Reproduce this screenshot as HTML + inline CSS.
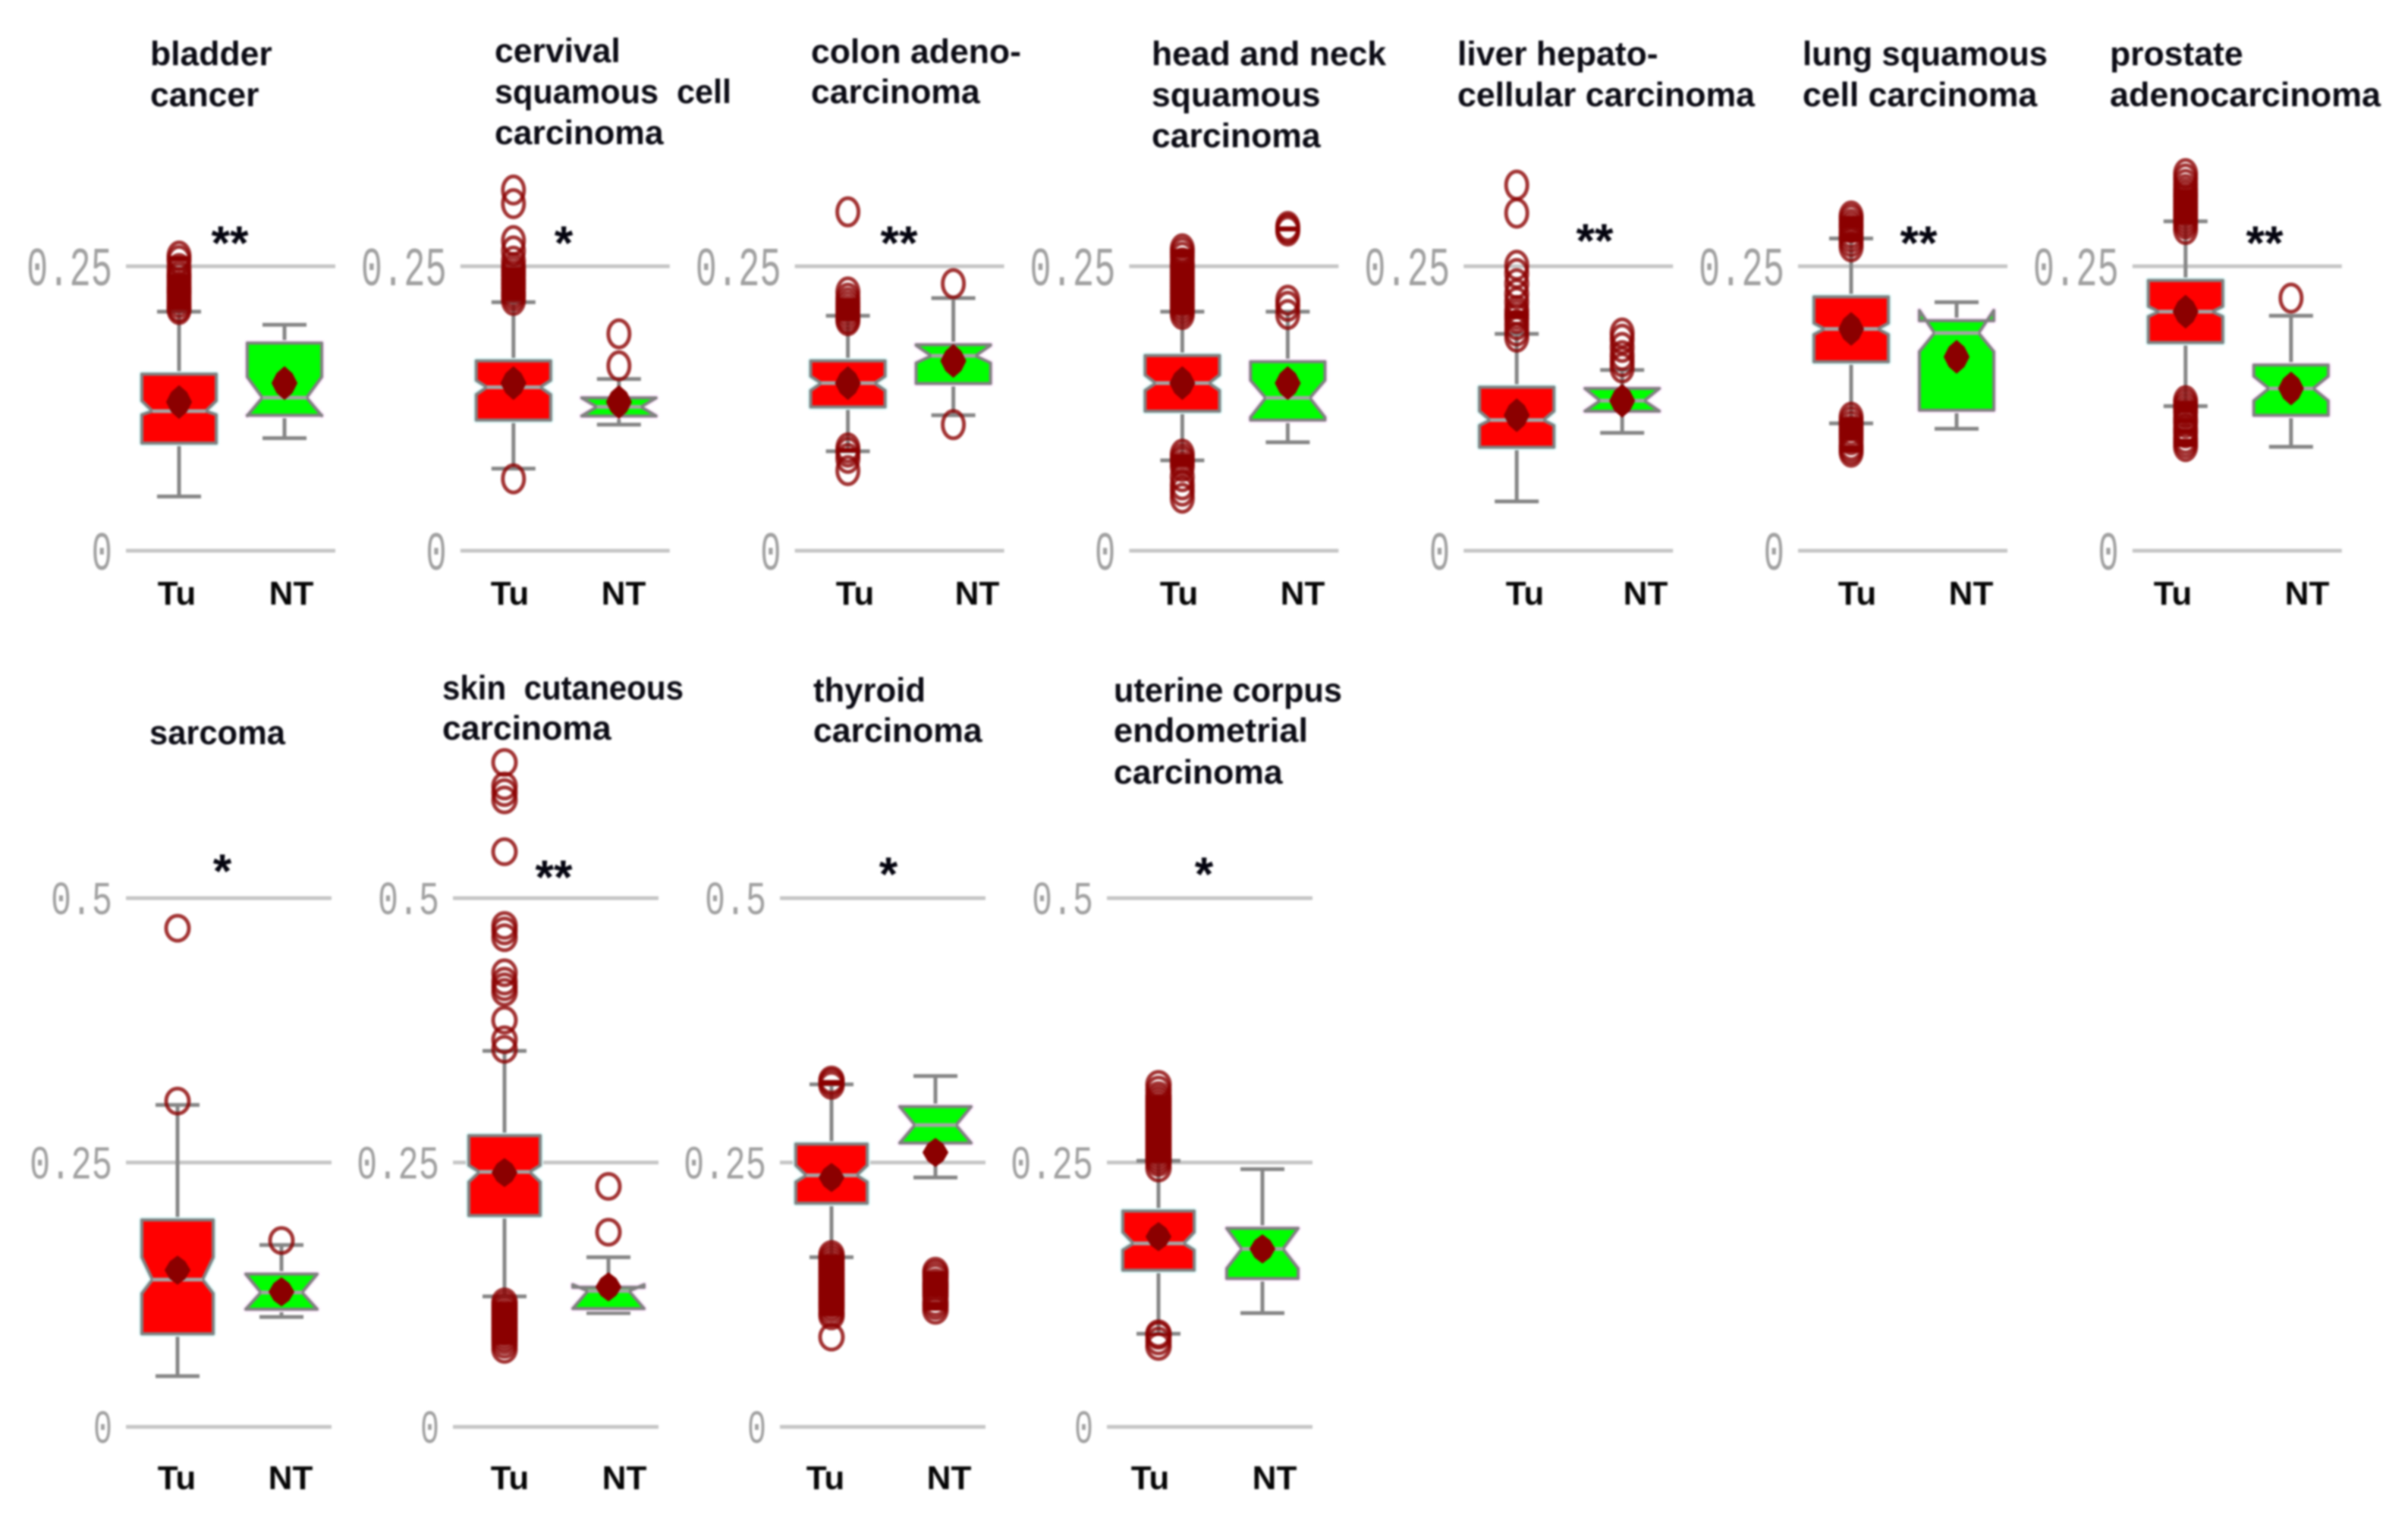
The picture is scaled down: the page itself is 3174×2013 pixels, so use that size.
<!DOCTYPE html>
<html>
<head>
<meta charset="utf-8">
<title>Notched box plots of tumour versus non-tumour samples</title>
<style>
html,body{margin:0;padding:0;background:#fff;width:3174px;height:2013px;overflow:hidden}
svg{display:block}
.title{font-family:"Liberation Sans",sans-serif;font-weight:700;font-size:44.5px;fill:#0b0b14;white-space:pre}
.cat{font-family:"Liberation Sans",sans-serif;font-weight:700;font-size:44px;fill:#050505;text-anchor:middle}
.star{font-family:"Liberation Sans",sans-serif;font-weight:700;font-size:63px;fill:#050510;text-anchor:middle}
.tick{font-family:"Liberation Mono",monospace;fill:#a0a0a0;text-anchor:end}
#blur-layer{filter:blur(1.2px)}
</style>
</head>
<body>
<svg id="chart" xmlns="http://www.w3.org/2000/svg" width="3174" height="2013" viewBox="0 0 3174 2013">
<rect width="3174" height="2013" fill="#fff"/>
<g id="blur-layer">
<g id="marks"></g>

<g>
<text class="title" x="198" y="86">bladder</text>
<text class="title" x="198" y="140">cancer</text>
<text class="title" x="652" y="82">cervival</text>
<text class="title" x="652" y="136" textLength="312" lengthAdjust="spacingAndGlyphs">squamous  cell</text>
<text class="title" x="652" y="190">carcinoma</text>
<text class="title" x="1069" y="83">colon adeno-</text>
<text class="title" x="1069" y="136">carcinoma</text>
<text class="title" x="1518" y="86">head and neck</text>
<text class="title" x="1518" y="140">squamous</text>
<text class="title" x="1518" y="194">carcinoma</text>
<text class="title" x="1921" y="86">liver hepato-</text>
<text class="title" x="1921" y="140" textLength="392" lengthAdjust="spacingAndGlyphs">cellular carcinoma</text>
<text class="title" x="2376" y="86" textLength="323" lengthAdjust="spacingAndGlyphs">lung squamous</text>
<text class="title" x="2376" y="140">cell carcinoma</text>
<text class="title" x="2781" y="86">prostate</text>
<text class="title" x="2781" y="140" textLength="357" lengthAdjust="spacingAndGlyphs">adenocarcinoma</text>
<text class="title" x="197" y="981" textLength="179" lengthAdjust="spacingAndGlyphs">sarcoma</text>
<text class="title" x="583" y="922" textLength="318" lengthAdjust="spacingAndGlyphs">skin  cutaneous</text>
<text class="title" x="583" y="975">carcinoma</text>
<text class="title" x="1072" y="925" textLength="148" lengthAdjust="spacingAndGlyphs">thyroid</text>
<text class="title" x="1072" y="978">carcinoma</text>
<text class="title" x="1468" y="925" textLength="301" lengthAdjust="spacingAndGlyphs">uterine corpus</text>
<text class="title" x="1468" y="978" textLength="256" lengthAdjust="spacingAndGlyphs">endometrial</text>
<text class="title" x="1468" y="1033">carcinoma</text>
</g>

<g>
<text class="star" x="303" y="342">**</text>
<text class="star" x="743" y="342">*</text>
<text class="star" x="1185" y="342">**</text>
<text class="star" x="2102" y="339">**</text>
<text class="star" x="2529" y="342">**</text>
<text class="star" x="2985" y="342">**</text>
<text class="star" x="293" y="1170">*</text>
<text class="star" x="730" y="1178">**</text>
<text class="star" x="1171" y="1174">*</text>
<text class="star" x="1587" y="1174">*</text>
</g>

<g>
<text class="cat" x="233" y="797">Tu</text>
<text class="cat" x="384" y="797">NT</text>
<text class="cat" x="672" y="797">Tu</text>
<text class="cat" x="822" y="797">NT</text>
<text class="cat" x="1127" y="797">Tu</text>
<text class="cat" x="1288" y="797">NT</text>
<text class="cat" x="1554" y="797">Tu</text>
<text class="cat" x="1717" y="797">NT</text>
<text class="cat" x="2010" y="797">Tu</text>
<text class="cat" x="2169" y="797">NT</text>
<text class="cat" x="2448" y="797">Tu</text>
<text class="cat" x="2598" y="797">NT</text>
<text class="cat" x="2864" y="797">Tu</text>
<text class="cat" x="3041" y="797">NT</text>
<text class="cat" x="233" y="1963">Tu</text>
<text class="cat" x="383" y="1963">NT</text>
<text class="cat" x="672" y="1963">Tu</text>
<text class="cat" x="823" y="1963">NT</text>
<text class="cat" x="1088" y="1963">Tu</text>
<text class="cat" x="1251" y="1963">NT</text>
<text class="cat" x="1516" y="1963">Tu</text>
<text class="cat" x="1680" y="1963">NT</text>
</g>
</g>
</svg>

<script>
// Panel order: bladder, cervical, colon, head-neck, liver, lung, prostate, sarcoma, skin, thyroid, uterine
const topTickValues = [0, 0.25];
const topTickLabels = ["0", "0.25"];
const bottomTickValues = [0, 0.25, 0.5];
const bottomTickLabels = ["0", "0.25", "0.5"];

const tuWhiskerLow  = [0.0477, 0.0722, 0.0874, 0.0794, 0.0433, 0.1119, 0.1271, 0.0480, 0.1234, 0.1604, 0.0881];
const tuQ1          = [0.0946, 0.1148, 0.1264, 0.1227, 0.0910, 0.1661, 0.1830, 0.0881, 0.1999, 0.2115, 0.1482];
const tuNotchLow    = [0.1195, 0.1372, 0.1408, 0.1408, 0.1101, 0.1900, 0.2058, 0.1261, 0.2316, 0.2316, 0.1672];
const tuMedian      = [0.1227, 0.1437, 0.1473, 0.1473, 0.1148, 0.1949, 0.2101, 0.1393, 0.2411, 0.2379, 0.1735];
const tuNotchHigh   = [0.1318, 0.1498, 0.1534, 0.1545, 0.1227, 0.2000, 0.2148, 0.1604, 0.2474, 0.2474, 0.1841];
const tuQ3          = [0.1552, 0.1668, 0.1668, 0.1715, 0.1437, 0.2231, 0.2375, 0.1957, 0.2754, 0.2674, 0.2041];
const tuWhiskerHigh = [0.2101, 0.2184, 0.2065, 0.2101, 0.1906, 0.2744, 0.2895, 0.3044, 0.3555, 0.3239, 0.2516];
const tuMean        = [0.1307, 0.1473, 0.1473, 0.1473, 0.1191, 0.1949, 0.2101, 0.1482, 0.2405, 0.2358, 0.1799];

const ntWhiskerLow  = [0.0989, 0.1108, 0.1191, 0.0953, 0.1036, 0.1072, 0.0913, 0.1039, 0.1076, 0.2358, 0.1076];
const ntQ1          = [0.1191, 0.1184, 0.1470, 0.1148, 0.1227, 0.1235, 0.1191, 0.1113, 0.1119, 0.2685, 0.1403];
const ntNotchLow    = [0.1187, 0.1184, 0.1650, 0.1173, 0.1227, 0.1750, 0.1318, 0.1113, 0.1119, 0.2685, 0.1498];
const ntMedian      = [0.1345, 0.1264, 0.1713, 0.1343, 0.1318, 0.1913, 0.1426, 0.1271, 0.1285, 0.2854, 0.1683];
const ntNotchHigh   = [0.1527, 0.1343, 0.1805, 0.1498, 0.1426, 0.2112, 0.1534, 0.1445, 0.1345, 0.3028, 0.1878];
const ntQ3          = [0.1825, 0.1343, 0.1810, 0.1661, 0.1426, 0.2022, 0.1632, 0.1445, 0.1320, 0.3028, 0.1878];
const ntWhiskerHigh = [0.1986, 0.1509, 0.2220, 0.2101, 0.1588, 0.2184, 0.2065, 0.1720, 0.1604, 0.3318, 0.2437];
const ntMean        = [0.1473, 0.1307, 0.1668, 0.1473, 0.1318, 0.1704, 0.1426, 0.1277, 0.1324, 0.2595, 0.1683];

const tuOutliersBladder = [0.259,0.255,0.248,0.243,0.240,0.236,0.232,0.229,0.226,0.222,0.218,0.214,0.212];
const tuOutliersCervical = [0.317,0.305,0.2726,0.2635,0.2545,0.249,0.2455,0.242,0.238,0.2347,0.231,0.227,0.2238,0.220,0.0632];
const tuOutliersColon = [0.2978,0.2274,0.222,0.218,0.2145,0.211,0.2075,0.204,0.2022,0.0903,0.0866,0.0812,0.0704];
const tuOutliersHeadNeck = [0.2653,0.262,0.258,0.253,0.250,0.247,0.244,0.241,0.238,0.235,0.232,0.229,0.226,0.223,0.220,0.217,0.214,0.211,0.2076,0.0848,0.081,0.078,0.074,0.065,0.0578,0.0523,0.0462];
const tuOutliersLiver = [0.3213,0.2967,0.2509,0.2437,0.2347,0.2256,0.2184,0.2112,0.2076,0.204,0.1985,0.193,0.1877];
const tuOutliersLung = [0.2942,0.291,0.287,0.2838,0.2792,0.2755,0.2715,0.2671,0.1173,0.1135,0.1095,0.1055,0.1015,0.0975,0.0925,0.0895,0.0866];
const tuOutliersProstate = [0.3314,0.3268,0.322,0.3175,0.314,0.311,0.308,0.305,0.302,0.299,0.296,0.293,0.290,0.287,0.2823,0.1318,0.1285,0.125,0.1215,0.116,0.1125,0.107,0.1035,0.0985,0.095,0.0915];
const tuOutliersSarcoma = [0.4716,0.3081];
const tuOutliersSkin = [0.6283,0.6061,0.5998,0.5929,0.5439,0.4742,0.469,0.4626,0.4294,0.4215,0.4162,0.411,0.3846,0.3661,0.3571,0.1182,0.115,0.112,0.109,0.106,0.103,0.100,0.097,0.094,0.091,0.088,0.085,0.082,0.078,0.0733];
const tuOutliersThyroid = [0.328,0.326,0.323,0.163,0.160,0.157,0.154,0.151,0.148,0.145,0.142,0.139,0.136,0.133,0.130,0.127,0.124,0.121,0.118,0.115,0.112,0.108,0.105,0.0849];
const tuOutliersUterine = [0.3239,0.3186,0.3133,0.310,0.307,0.304,0.301,0.298,0.295,0.292,0.289,0.286,0.283,0.280,0.277,0.274,0.271,0.268,0.265,0.262,0.259,0.256,0.253,0.250,0.2448,0.0881,0.0865,0.0812,0.076];

const ntOutliersBladder = [];
const ntOutliersCervical = [0.1906,0.1625];
const ntOutliersColon = [0.2347,0.1108];
const ntOutliersHeadNeck = [0.285,0.283,0.281,0.2202,0.2148,0.2076];
const ntOutliersLiver = [0.1913,0.1859,0.1787,0.1715,0.166,0.1606];
const ntOutliersLung = [];
const ntOutliersProstate = [0.222];
const ntOutliersSarcoma = [0.1762];
const ntOutliersSkin = [0.2274,0.1841];
const ntOutliersThyroid = [0.1472,0.1445,0.141,0.1365,0.1335,0.1305,0.127,0.1235,0.118,0.1145,0.1102];
const ntOutliersUterine = [];

const tuOutliers = [tuOutliersBladder,tuOutliersCervical,tuOutliersColon,tuOutliersHeadNeck,tuOutliersLiver,tuOutliersLung,tuOutliersProstate,tuOutliersSarcoma,tuOutliersSkin,tuOutliersThyroid,tuOutliersUterine];
const ntOutliers = [ntOutliersBladder,ntOutliersCervical,ntOutliersColon,ntOutliersHeadNeck,ntOutliersLiver,ntOutliersLung,ntOutliersProstate,ntOutliersSarcoma,ntOutliersSkin,ntOutliersThyroid,ntOutliersUterine];

const NS = 'http://www.w3.org/2000/svg';
const root = document.getElementById('marks');

function yTop(v){ return 726 - 1500 * v; }
function yBottom(v){ return 1881 - 1394 * v; }
function panelLeft(i){ return i < 7 ? 166 + i * 440.8 : 166 + (i - 7) * 431; }

function make(tag, attrs, parent){
  const el = document.createElementNS(NS, tag);
  for (const k in attrs) el.setAttribute(k, attrs[k]);
  parent.appendChild(el);
  return el;
}

function drawAxis(g, left, y, values, labels, isTop){
  values.forEach(function(v, j){
    const line = make('line', {x1:left, x2:left + (isTop ? 276 : 271), y1:y(v), y2:y(v), stroke:'#c6c6c6', 'stroke-width':5}, g);
    
    
    const txt = make('text', {
      class:'tick', x:left - 18, y:y(v) + (isTop ? 25 : 21),
      'font-size': isTop ? 72 : 62,
      textLength: isTop ? 28.5 * labels[j].length - 1 : 28 * labels[j].length - 3,
      lengthAdjust:'spacingAndGlyphs'
    }, g);
    txt.textContent = labels[j];
    
    
  });
}

function drawBox(g, cx, y, s, fill, halo, inset, halfW, isTop){
  const capHalf = 29;
  const whisker = make('path', {
    d:'M'+(cx-capHalf)+' '+y(s.hi)+'H'+(cx+capHalf)+'M'+cx+' '+y(s.hi)+'V'+y(s.q3)+
      'M'+cx+' '+y(s.q1)+'V'+y(s.lo)+'M'+(cx-capHalf)+' '+y(s.lo)+'H'+(cx+capHalf),
    fill:'none', stroke:'#858585', 'stroke-width':5
  }, g);
  
  

  const L = cx - halfW, R = cx + halfW;
  const pts = [[L,s.q3],[L,s.nu],[L+inset,s.med],[L,s.nl],[L,s.q1],[R,s.q1],[R,s.nl],[R-inset,s.med],[R,s.nu],[R,s.q3]];
  const ptStr = pts.map(function(p){ return p[0] + ',' + y(p[1]); }).join(' ');
  const glow = make('polygon', {points:ptStr, fill:'none', stroke:halo, 'stroke-width':8, 'stroke-linejoin':'round'}, g);
  
  
  const box = make('polygon', {points:ptStr, fill:fill, stroke:'#808080', 'stroke-width':4, 'stroke-linejoin':'round'}, g);
  
  

  const med = make('line', {x1:L+inset, x2:R-inset, y1:y(s.med), y2:y(s.med), stroke:'#a4a4a4', 'stroke-width':5}, g);
  
  

  const ordered = s.out.slice().sort(function(a, b){ return b - a; });
  ordered.forEach(function(v, j){
    if (j === 0) return;
    const y1 = y(ordered[j - 1]), y2 = y(v);
    if (y2 - y1 <= 6.5) {
      const band = make('rect', {x:cx - 14, y:y1, width:28, height:y2 - y1 + 0.5, fill:'#8b0000'}, g);
      
      
    }
  });
  s.out.forEach(function(v){
    const ring = make('ellipse', {
      cx:cx, cy:y(v), rx:isTop ? 14 : 15, ry:isTop ? 18 : 16.5,
      fill:'none', stroke:'#8b0000', 'stroke-opacity':0.8, 'stroke-width':5
    }, g);
    
    
  });

  const my = y(s.mean), w = 16, h = isTop ? 21 : 18, sw = w * 0.6, sh = h * 0.6;
  const mean = make('polygon', {
    points:[[-w,0],[-sw,-sh],[0,-h],[sw,-sh],[w,0],[sw,sh],[0,h],[-sw,sh]].map(function(p){
      return (cx + p[0]) + ',' + (my + p[1]);
    }).join(' '),
    fill:'#8b0000', stroke:'#8b0000', 'stroke-width':2, 'stroke-linejoin':'round'
  }, g);
  
  
}

tuMedian.forEach(function(_, i){
  const isTop = i < 7;
  const y = isTop ? yTop : yBottom;
  const left = panelLeft(i);
  const g = make('g', {}, root);
  
  
  drawAxis(g, left, y, isTop ? topTickValues : bottomTickValues, isTop ? topTickLabels : bottomTickLabels, isTop);
  const halfW = isTop ? 49 : 47;
  drawBox(g, left + (isTop ? 70 : 68), y, {
    lo:tuWhiskerLow[i], q1:tuQ1[i], nl:tuNotchLow[i], med:tuMedian[i], nu:tuNotchHigh[i],
    q3:tuQ3[i], hi:tuWhiskerHigh[i], mean:tuMean[i], out:tuOutliers[i]
  }, '#ff0000', '#d8f6f6', 14, halfW, isTop);
  drawBox(g, left + (isTop ? 209 : 205), y, {
    lo:ntWhiskerLow[i], q1:ntQ1[i], nl:ntNotchLow[i], med:ntMedian[i], nu:ntNotchHigh[i],
    q3:ntQ3[i], hi:ntWhiskerHigh[i], mean:ntMean[i], out:ntOutliers[i]
  }, '#00ff00', '#fae6fa', 20, halfW, isTop);
});
</script>
</body>
</html>
